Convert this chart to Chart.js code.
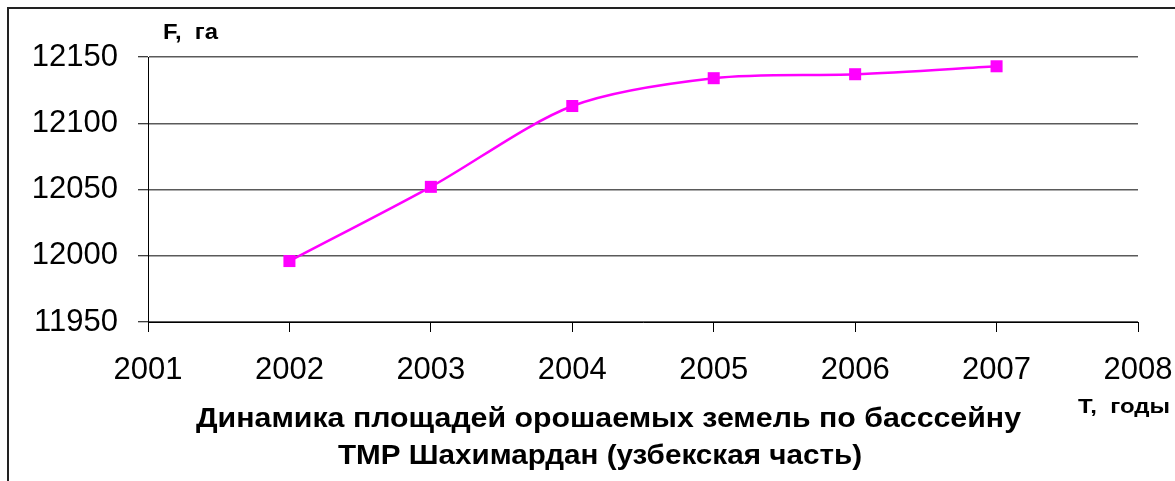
<!DOCTYPE html>
<html>
<head>
<meta charset="utf-8">
<script src="https://cdn.jsdelivr.net/npm/chart.js"></script>
<style>
  html, body { margin: 0; padding: 0; background: #fff; overflow: hidden; }
  #frame { position: absolute; left: 7px; top: 7px; width: 1300px; height: 600px; border: 2px solid #222; }
  #wrap { position: absolute; left: 0; top: 0; width: 1175px; height: 481px; }
</style>
</head>
<body>
<div id="frame"></div>
<div id="wrap"><canvas id="lineChart" width="1175" height="481"></canvas></div>
<script>
// data
const years = [2002, 2003, 2004, 2005, 2006, 2007];
const area = [11996, 12052, 12113, 12134, 12137, 12143];
const yTicks = [11950, 12000, 12050, 12100, 12150];
const xTicks = [2001, 2002, 2003, 2004, 2005, 2006, 2007, 2008];

const titleLines = [
  'Динамика площадей орошаемых земель по басссейну',
  'ТМР Шахимардан (узбекская часть)'
];

// draw text squeezed/stretched to a given width
function fitText(ctx, text, left, y, width) {
  const w = ctx.measureText(text).width;
  ctx.save();
  ctx.translate(left, y);
  ctx.scale(width / w, 1);
  ctx.textAlign = 'left';
  ctx.fillText(text, 0, 0);
  ctx.restore();
}

const captions = {
  id: 'captions',
  afterDraw(chart) {
    const ctx = chart.ctx;
    ctx.save();
    ctx.fillStyle = '#000';
    ctx.textBaseline = 'alphabetic';
    ctx.font = 'bold 22px "Liberation Sans", Arial, sans-serif';
    fitText(ctx, 'F,  га', 163, 39, 55);
    ctx.font = 'bold 21px "Liberation Sans", Arial, sans-serif';
    fitText(ctx, 'Т,  годы', 1078, 413, 92);
    ctx.font = 'bold 28px "Liberation Sans", Arial, sans-serif';
    fitText(ctx, titleLines[0], 196, 427, 825);
    fitText(ctx, titleLines[1], 338, 464, 524);
    ctx.restore();
  }
};

const ctx = document.getElementById('lineChart').getContext('2d');
new Chart(ctx, {
  type: 'line',
  data: {
    datasets: [{
      data: years.map((y, i) => ({ x: y, y: area[i] })),
      borderColor: '#ff00ff',
      backgroundColor: '#ff00ff',
      borderWidth: 2.5,
      pointStyle: 'rect',
      pointRadius: 8.5,
      pointBorderWidth: 0,
      tension: 0.3
    }]
  },
  options: {
    responsive: false,
    animation: false,
    layout: { padding: { top: 57, right: 37, left: 0, bottom: 0 } },
    plugins: { legend: { display: false }, tooltip: { enabled: false } },
    scales: {
      x: {
        type: 'linear',
        min: 2001,
        max: 2008,
        afterBuildTicks: s => { s.ticks = xTicks.map(v => ({ value: v })); },
        afterFit: s => { s.height = 159; s.paddingLeft = 0; s.paddingRight = 0; },
        grid: { drawOnChartArea: false, drawTicks: true, tickLength: 10, color: '#000', lineWidth: 1 },
        border: { display: true, color: '#000', width: 1 },
        ticks: {
          color: '#000',
          padding: 20,
          maxRotation: 0,
          font: { family: '"Liberation Sans", Arial, sans-serif', size: 31 },
          callback: v => String(v)
        }
      },
      y: {
        min: 11950,
        max: 12150,
        afterBuildTicks: s => { s.ticks = yTicks.map(v => ({ value: v })); },
        afterFit: s => { s.width = 148; s.paddingTop = 0; s.paddingBottom = 0; },
        grid: { color: '#5a5a5a', lineWidth: 1.5, tickLength: 10, tickColor: '#000', tickWidth: 1 },
        border: { display: true, color: '#000', width: 1 },
        ticks: {
          color: '#000',
          padding: 20,
          font: { family: '"Liberation Sans", Arial, sans-serif', size: 31 },
          callback: v => String(v)
        }
      }
    }
  },
  plugins: [captions]
});
</script>
</body>
</html>
